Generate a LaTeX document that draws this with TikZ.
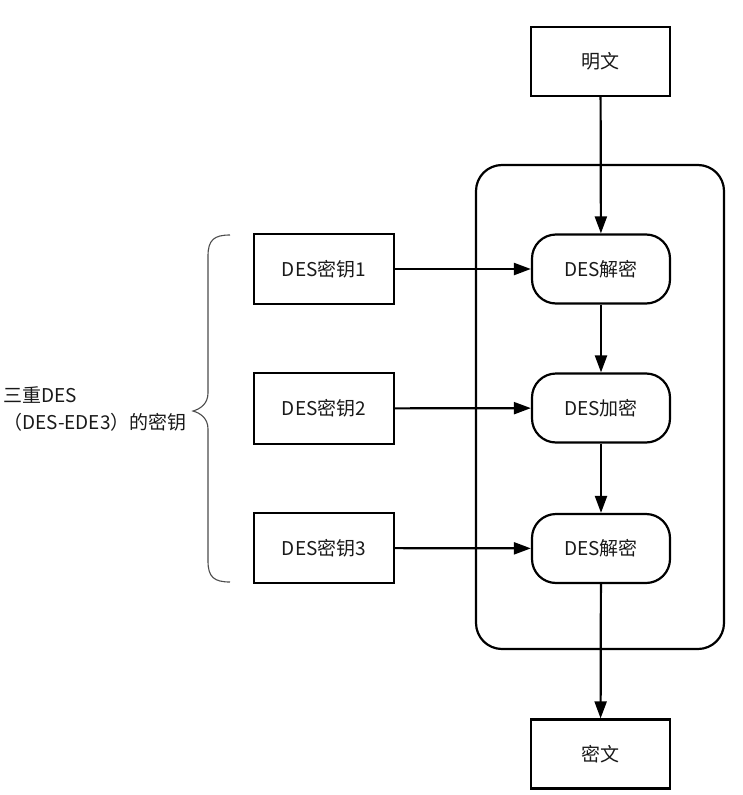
\documentclass[tikz,border=0pt]{standalone}
\usepackage{fontspec}
\setmainfont{Noto Sans CJK SC}
\usetikzlibrary{arrows.meta}
\begin{document}
\begin{tikzpicture}[x=1pt,y=-1pt,
  every node/.style={font=\fontsize{19}{22}\selectfont, text=black!90},
  sqbox/.style={draw, line width=2.2pt, minimum width=139pt, minimum height=69pt, inner sep=0pt},
  rdbox/.style={draw, line width=2.2pt, rounded corners=24pt, minimum width=138pt, minimum height=69pt, inner sep=0pt},
  conn/.style={line width=2.2pt, -{Triangle[length=17pt,width=12pt]}}]
\useasboundingbox (0,0) rectangle (743,795);
% outer container
\node[draw, line width=2.2pt, rounded corners=26pt, minimum width=248pt, minimum height=484pt, inner sep=0pt] (outer) at (600,407) {};
\node[sqbox] (plain) at (600.5,61.5) {明文};
\node[sqbox] (cipher) at (600.5,754) {密文};
\node[rdbox] (d1) at (601,269) {DES解密};
\node[rdbox] (e2) at (601,408) {DES加密};
\node[rdbox] (d3) at (601,548.5) {DES解密};
\node[sqbox, minimum width=140pt, minimum height=70pt] (k1) at (324,269) {DES密钥1};
\node[sqbox, minimum width=140pt, minimum height=71pt] (k2) at (324,408.5) {DES密钥2};
\node[sqbox, minimum width=140pt, minimum height=70pt] (k3) at (324,548) {DES密钥3};
\draw[conn] (plain) -- (d1);
\draw[conn] (d1) -- (e2);
\draw[conn] (e2) -- (d3);
\draw[conn] (d3) -- (cipher);
\draw[conn] (k1) -- (d1);
\draw[conn] (k2) -- (e2);
\draw[conn] (k3) -- (d3);
% brace
\coordinate (bt) at (230,235);
\coordinate (bb) at (230,582);
\coordinate (tip) at (193,411);
\draw[line width=1.1pt, black!70] (bt) .. controls (214,235) and (208,240) .. (208,256)
  -- (208,393) .. controls (208,404) and (200,409) .. (tip)
  .. controls (200,413) and (208,418) .. (208,429)
  -- (208,561) .. controls (208,577) and (214,582) .. (bb);
\node[anchor=west, align=left, inner sep=0pt, font=\fontsize{19}{27}\selectfont] (lbl) at (3,409) {三重DES\\（DES-EDE3）的密钥};
\end{tikzpicture}
\end{document}
